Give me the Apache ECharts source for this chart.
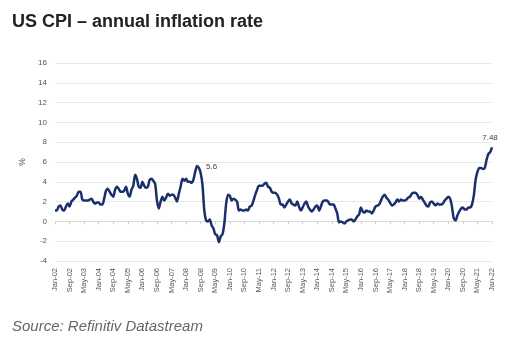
<!DOCTYPE html>
<html>
<head>
<meta charset="utf-8">
<script src="https://cdn.jsdelivr.net/npm/echarts@6/dist/echarts.min.js"></script>
<style>
  html, body { margin: 0; padding: 0; background: #fff; }
  #chart { width: 525px; height: 353px; }
</style>
</head>
<body>
<div id="chart"></div>
<script>
  // US CPI, annual % change, monthly Jan-02 .. Jan-22
  var startYear = 2002;
  var cpiYoY = [
    1.1, 1.1, 1.5, 1.6, 1.2, 1.1, 1.5, 1.8, 1.5, 2.0, 2.2, 2.4,
    2.6, 3.0, 3.0, 2.2, 2.1, 2.1, 2.1, 2.2, 2.3, 2.0, 1.8, 1.9,
    1.9, 1.7, 1.7, 2.3, 3.1, 3.3, 3.0, 2.7, 2.5, 3.2, 3.5, 3.3,
    3.0, 3.0, 3.1, 3.5, 2.8, 2.5, 3.2, 3.6, 4.7, 4.3, 3.5, 3.4,
    4.0, 3.6, 3.4, 3.5, 4.2, 4.3, 4.1, 3.8, 2.1, 1.3, 2.0, 2.5,
    2.1, 2.4, 2.8, 2.6, 2.7, 2.7, 2.4, 2.0, 2.8, 3.5, 4.3, 4.1,
    4.3, 4.0, 4.0, 3.9, 4.2, 5.0, 5.6, 5.4, 4.9, 3.7, 1.1, 0.1,
    0.0, 0.2, -0.4, -0.7, -1.3, -1.4, -2.1, -1.5, -1.3, -0.2, 1.8, 2.7,
    2.6, 2.1, 2.3, 2.2, 2.0, 1.1, 1.2, 1.1, 1.1, 1.2, 1.1, 1.5,
    1.6, 2.1, 2.7, 3.2, 3.6, 3.6, 3.6, 3.8, 3.9, 3.5, 3.4, 3.0,
    2.9, 2.9, 2.7, 2.3, 1.7, 1.7, 1.4, 1.7, 2.0, 2.2, 1.8, 1.7,
    1.6, 2.0, 1.5, 1.1, 1.4, 1.8, 2.0, 1.5, 1.2, 1.0, 1.2, 1.5,
    1.6, 1.1, 1.5, 2.0, 2.1, 2.1, 2.0, 1.7, 1.7, 1.7, 1.3, 0.8,
    -0.1, 0.0, -0.1, -0.2, 0.0, 0.1, 0.2, 0.2, 0.0, 0.2, 0.5, 0.7,
    1.4, 1.0, 0.9, 1.1, 1.0, 1.0, 0.8, 1.1, 1.5, 1.6, 1.7, 2.1,
    2.5, 2.7, 2.4, 2.2, 1.9, 1.6, 1.7, 1.9, 2.2, 2.0, 2.2, 2.1,
    2.1, 2.2, 2.4, 2.5, 2.8, 2.9, 2.9, 2.7, 2.3, 2.5, 2.2, 1.9,
    1.6, 1.5, 1.9, 2.0, 1.8, 1.6, 1.8, 1.7, 1.7, 1.8, 2.1, 2.3,
    2.5, 2.3, 1.5, 0.3, 0.1, 0.6, 1.0, 1.3, 1.4, 1.2, 1.2, 1.4,
    1.4, 1.7, 2.6, 4.2, 5.0, 5.4, 5.4, 5.3, 5.4, 6.2, 6.8, 7.0,
    7.48
  ];
  // points that carry a value label
  var labelledPoints = ['Jul-08', 'Jan-22'];
  var monthNames = ['Jan', 'Feb', 'Mar', 'Apr', 'May', 'Jun', 'Jul', 'Aug', 'Sep', 'Oct', 'Nov', 'Dec'];

  var months = [];
  for (var i = 0; i < cpiYoY.length; i++) {
    var yy = (startYear + Math.floor(i / 12)) % 100;
    months.push(monthNames[i % 12] + '-' + (yy < 10 ? '0' + yy : '' + yy));
  }

  var seriesData = cpiYoY.map(function (v, i) {
    if (labelledPoints.indexOf(months[i]) >= 0) {
      var last = i === cpiYoY.length - 1;
      return {
        value: v,
        label: {
          show: true,
          position: last ? 'top' : 'right',
          distance: last ? 6 : 9,
          offset: last ? [-2, 0] : [0, 1],
          formatter: '{c}',
          fontSize: 8,
          fontFamily: 'Liberation Sans',
          color: '#444'
        }
      };
    }
    return v;
  });

  var chart = echarts.init(document.getElementById('chart'));
  var option = {
    animation: false,
    title: [
      {
        text: 'US CPI \u2013 annual inflation rate',
        left: 7,
        top: 8,
        textStyle: { fontFamily: 'Liberation Sans', fontSize: 18, fontWeight: 'bold', color: '#222' }
      },
      {
        text: 'Source: Refinitiv Datastream',
        left: 7,
        top: 314,
        textStyle: { fontFamily: 'Liberation Sans', fontSize: 15, fontStyle: 'italic', fontWeight: 'normal', color: '#666' }
      }
    ],
    grid: { left: 55, right: 33, top: 63, bottom: 92 },
    xAxis: [
      {
        type: 'category',
        data: months,
        boundaryGap: false,
        axisLine: { onZero: true, lineStyle: { color: '#d9d9d9', width: 1 } },
        axisTick: { show: true, interval: 7, length: 3, lineStyle: { color: '#d0d0d0' } },
        axisLabel: { show: false },
        splitLine: { show: false }
      },
      {
        type: 'category',
        data: months,
        boundaryGap: false,
        position: 'bottom',
        axisLine: { show: false, onZero: false },
        axisTick: { show: false },
        axisLabel: {
          interval: 7,
          rotate: 90,
          margin: 7,
          fontSize: 7.5,
          fontFamily: 'Liberation Sans',
          color: '#555'
        },
        splitLine: { show: false }
      }
    ],
    yAxis: {
      type: 'value',
      min: -4,
      max: 16,
      interval: 2,
      name: '%',
      nameLocation: 'middle',
      nameGap: 28,
      nameRotate: 90,
      nameTextStyle: { fontSize: 8.5, color: '#555', fontFamily: 'Liberation Sans' },
      axisLine: { show: false },
      axisTick: { show: false },
      axisLabel: { fontSize: 8, color: '#555', margin: 8, fontFamily: 'Liberation Sans' },
      splitLine: { lineStyle: { color: '#e8e8e8', width: 1 } }
    },
    series: [
      {
        name: 'US CPI',
        type: 'line',
        xAxisIndex: 0,
        data: seriesData,
        smooth: 0.25,
        showSymbol: true,
        showAllSymbol: true,
        symbol: 'circle',
        symbolSize: 0,
        lineStyle: { color: '#1b2f6b', width: 2.5 },
        itemStyle: { color: '#1b2f6b' }
      }
    ]
  };
  chart.setOption(option);
  window.addEventListener('resize', chart.resize);
</script>
</body>
</html>
